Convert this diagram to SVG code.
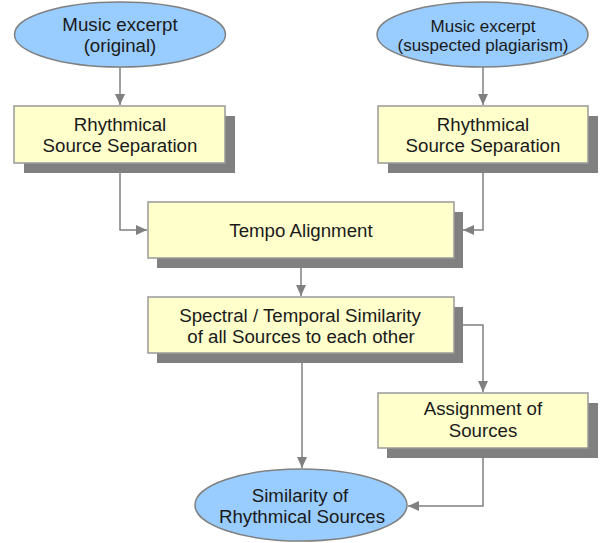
<svg xmlns="http://www.w3.org/2000/svg" width="600" height="543" viewBox="0 0 600 543">
<defs>
<style>
.box{fill:#ffffcc;stroke:#999999;stroke-width:1.5}
.shadow{fill:#808080}
.ell{fill:#99ccff;stroke:#808080;stroke-width:1.5}
.t{font-family:"Liberation Sans",Arial,sans-serif;font-size:18.7px;fill:#1a1a1a;text-anchor:middle}
.ts{font-size:17px}
.c{fill:none;stroke:#808080;stroke-width:1.5}
</style>
<marker id="ah" markerWidth="12" markerHeight="12" refX="11" refY="6" orient="auto" markerUnits="userSpaceOnUse">
<path d="M0,1 L11,6 L0,11 Z" fill="#808080"/>
</marker>
</defs>
<g id="connectors">
<path class="c" d="M120,67 V105" marker-end="url(#ah)"/>
<path class="c" d="M483,67 V105" marker-end="url(#ah)"/>
<path class="c" d="M120,173 V230 H147" marker-end="url(#ah)"/>
<path class="c" d="M483,173 V230 H463" marker-end="url(#ah)"/>
<path class="c" d="M301,268 V296" marker-end="url(#ah)"/>
<path class="c" d="M463,325 H483 V392" marker-end="url(#ah)"/>
<path class="c" d="M302,363 V468" marker-end="url(#ah)"/>
<path class="c" d="M483,458 V506 H408" marker-end="url(#ah)"/>
</g>
<g id="n1">
<ellipse class="ell" cx="120" cy="34.5" rx="105.5" ry="32.5"/>
<text class="t" x="120" y="31">Music excerpt</text>
<text class="t" x="120" y="52">(original)</text>
</g>
<g id="n2">
<ellipse class="ell" cx="482.5" cy="34.5" rx="105.5" ry="32.5"/>
<text class="t ts" x="483" y="32">Music excerpt</text>
<text class="t ts" x="483" y="51">(suspected plagiarism)</text>
</g>
<g id="n3">
<rect class="shadow" x="24" y="116" width="211" height="57"/>
<rect class="box" x="14" y="106" width="211" height="57"/>
<text class="t" x="120" y="131">Rhythmical</text>
<text class="t" x="120" y="152">Source Separation</text>
</g>
<g id="n4">
<rect class="shadow" x="388" y="116" width="210" height="57"/>
<rect class="box" x="378" y="106" width="210" height="57"/>
<text class="t" x="483" y="131">Rhythmical</text>
<text class="t" x="483" y="152">Source Separation</text>
</g>
<g id="n5">
<rect class="shadow" x="157" y="212" width="306" height="56"/>
<rect class="box" x="148" y="202" width="306" height="56"/>
<text class="t" x="301" y="237">Tempo Alignment</text>
</g>
<g id="n6">
<rect class="shadow" x="157" y="307" width="306" height="56"/>
<rect class="box" x="148" y="297" width="306" height="56"/>
<text class="t" x="300" y="322">Spectral / Temporal Similarity</text>
<text class="t" x="301" y="343">of all Sources to each other</text>
</g>
<g id="n7">
<rect class="shadow" x="387" y="403" width="211" height="55"/>
<rect class="box" x="378" y="393" width="210" height="55"/>
<text class="t" x="483" y="415">Assignment of</text>
<text class="t" x="483" y="437">Sources</text>
</g>
<g id="n8">
<ellipse class="ell" cx="301" cy="505" rx="106" ry="36"/>
<text class="t" x="300" y="502">Similarity of</text>
<text class="t" x="302" y="523">Rhythmical Sources</text>
</g>
</svg>
